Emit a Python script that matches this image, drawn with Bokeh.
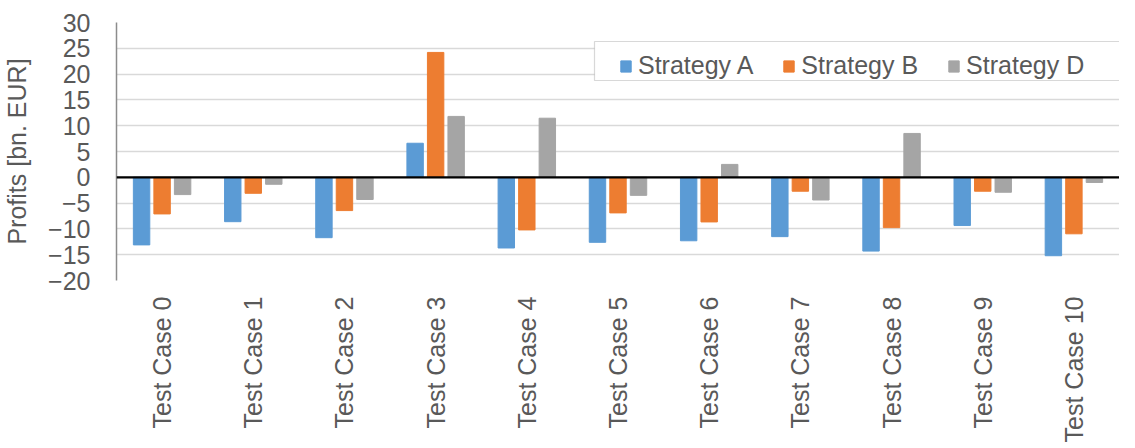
import math
from bokeh.plotting import figure
from bokeh.models import (ColumnDataSource, FactorRange, Legend, LegendItem, Span,
                          BoxAnnotation, SingleIntervalTicker, Range1d)
from bokeh.transform import dodge
from bokeh.embed import file_html
from bokeh.resources import INLINE

cases = ["Test Case 0", "Test Case 1", "Test Case 2", "Test Case 3", "Test Case 4",
         "Test Case 5", "Test Case 6", "Test Case 7", "Test Case 8", "Test Case 9",
         "Test Case 10"]
strategy_a = [-13.1, -8.6, -11.7, 6.6, -13.7, -12.6, -12.3, -11.5, -14.3, -9.35, -15.2]
strategy_b = [-7.1, -3.1, -6.45, 24.2, -10.2, -6.9, -8.65, -2.7, -9.75, -2.7, -10.95]
strategy_d = [-3.35, -1.35, -4.3, 11.8, 11.45, -3.5, 2.5, -4.4, 8.5, -2.9, -1.0]
series_names = ["Strategy A", "Strategy B", "Strategy D"]
colors = ["#5B9BD5", "#ED7D31", "#A5A5A5"]

FONT = "Liberation Sans"
TXT = "#595959"

src = ColumnDataSource(dict(case=cases, a=strategy_a, b=strategy_b, d=strategy_d))

p = figure(width=1119, height=448, x_range=FactorRange(*cases, range_padding=0),
           y_range=Range1d(-20, 30), output_backend="svg", toolbar_location=None,
           min_border_left=108, min_border_top=22, min_border_right=0,
           min_border_bottom=168)
p.outline_line_color = None
p.background_fill_color = "white"

renderers = []
for col, off, color in zip(["a", "b", "d"], [-0.225, 0.0, 0.225], colors):
    r = p.vbar(x=dodge("case", off, range=p.x_range), top=col, bottom=0, width=0.18,
               source=src, fill_color=color, line_color=color)
    renderers.append(r)

# grid
p.xgrid.grid_line_color = None
p.ygrid.grid_line_color = "#D9D9D9"
p.ygrid.grid_line_width = 1.5
p.yaxis.ticker = SingleIntervalTicker(interval=5)

# zero line
p.add_layout(Span(location=0, dimension="width", line_color="black", line_width=2.2))

# y axis
p.yaxis.axis_label = "Profits [bn. EUR]"
p.yaxis.axis_label_text_font = FONT
p.yaxis.axis_label_text_font_size = "25px"
p.yaxis.axis_label_text_font_style = "normal"
p.yaxis.axis_label_text_color = TXT
p.yaxis.axis_label_standoff = 14
p.yaxis.major_label_text_font = FONT
p.yaxis.major_label_text_font_size = "25px"
p.yaxis.major_label_text_color = TXT
p.yaxis.major_label_standoff = 20
p.yaxis.major_tick_line_color = None
p.yaxis.minor_tick_line_color = None
p.yaxis.axis_line_color = "#8C8C8C"
p.yaxis.axis_line_width = 1.5

# x axis
p.xaxis.axis_line_color = None
p.xaxis.major_tick_line_color = None
p.xaxis.minor_tick_line_color = None
p.xaxis.major_label_orientation = math.pi / 2
p.xaxis.major_label_text_font = FONT
p.xaxis.major_label_text_font_size = "25px"
p.xaxis.major_label_text_color = TXT
p.xaxis.major_label_standoff = 10

# legend frame
p.add_layout(BoxAnnotation(left=478, right=1007, bottom=200, top=239,
                           left_units="screen", right_units="screen",
                           bottom_units="screen", top_units="screen",
                           fill_color="white", fill_alpha=1.0,
                           line_color="#7F7F7F", line_width=1.2))

legend = Legend(items=[LegendItem(label=n, renderers=[r]) for n, r in zip(series_names, renderers)],
                orientation="horizontal", location=(503, 200),
                glyph_width=13, glyph_height=14, label_standoff=6, spacing=29,
                padding=5, border_line_color=None, background_fill_alpha=0,
                label_text_font=FONT, label_text_font_size="25px",
                label_text_color=TXT)
p.add_layout(legend, "center")

open("out.html", "w").write(file_html(p, INLINE))
